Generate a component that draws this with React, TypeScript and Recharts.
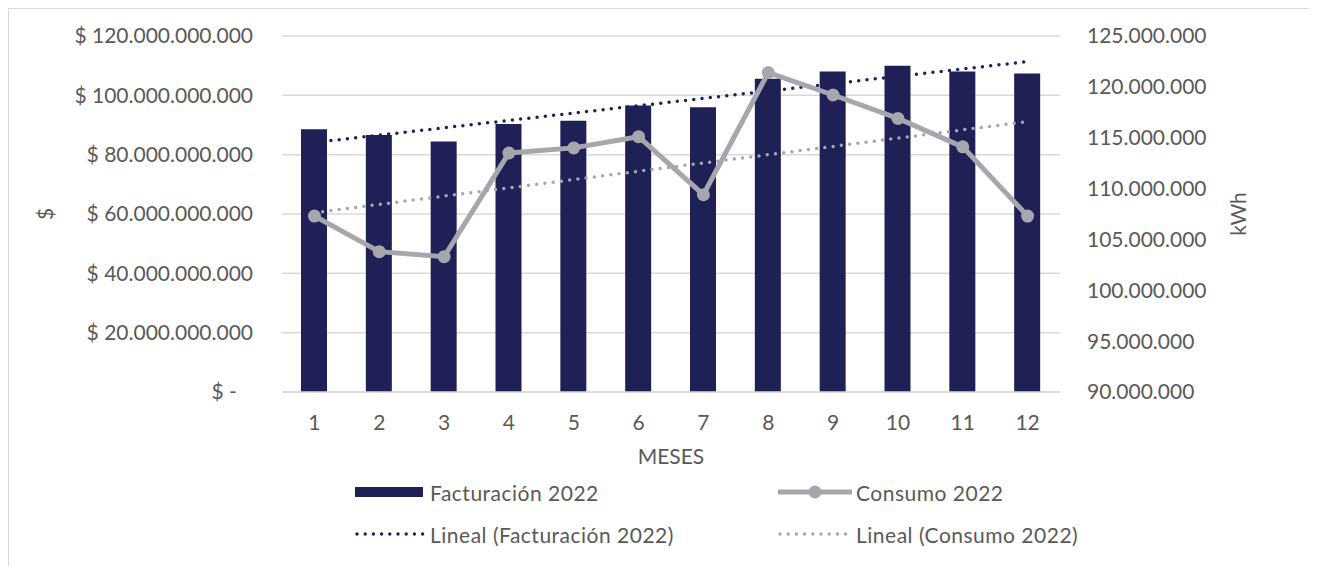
import { ComposedChart, Bar, Line, XAxis, YAxis, CartesianGrid } from "recharts";

// Facturación ($) y consumo (kWh) por mes, año 2022
const meses = ["1", "2", "3", "4", "5", "6", "7", "8", "9", "10", "11", "12"];
const facturacion2022 = [
  88600000000, 86600000000, 84400000000, 90300000000, 91400000000, 96600000000,
  96000000000, 105600000000, 108000000000, 110000000000, 108000000000, 107400000000,
];
const consumo2022 = [
  107300000, 103800000, 103300000, 113500000, 114000000, 115100000,
  109400000, 121400000, 119200000, 116900000, 114100000, 107300000,
];
const pesosTicks = [0, 20000000000, 40000000000, 60000000000, 80000000000, 100000000000, 120000000000];
const kwhTicks = [90000000, 95000000, 100000000, 105000000, 110000000, 115000000, 120000000, 125000000];

const NAVY = "#1f2056";
const GRAY = "#a6a6af";
const GRID = "#d9d9d9";
const TEXT = "#595959";
const FONT = "Lato, sans-serif";

// tendencia lineal por mínimos cuadrados (igual que "Lineal" en Excel)
function lineal(values: number[]) {
  const n = values.length;
  const xs = values.map((_, i) => i + 1);
  const mx = xs.reduce((a, b) => a + b, 0) / n;
  const my = values.reduce((a, b) => a + b, 0) / n;
  let sxy = 0;
  let sxx = 0;
  xs.forEach((x, i) => {
    sxy += (x - mx) * (values[i] - my);
    sxx += (x - mx) * (x - mx);
  });
  const b = sxy / sxx;
  return xs.map((x) => my + b * (x - mx));
}

const tendFact = lineal(facturacion2022);
const tendCons = lineal(consumo2022);

const data = meses.map((mes, i) => ({
  mes,
  facturacion: facturacion2022[i],
  consumo: consumo2022[i],
  tendFact: tendFact[i],
  tendCons: tendCons[i],
}));

const miles = (v: number) => Math.round(v).toString().replace(/\B(?=(\d{3})+(?!\d))/g, ".");
const pesos = (v: number) => (v === 0 ? "$ -\u00a0\u00a0\u00a0" : "$ " + miles(v));

const tick = { fill: TEXT, fontSize: 21, fontFamily: FONT };

function Leyenda() {
  const rows = [
    { y: 483, x: 346, label: "Facturación 2022", kind: "bar" },
    { y: 483, x: 769, label: "Consumo 2022", kind: "line" },
    { y: 525, x: 346, label: "Lineal (Facturación 2022)", kind: "navyDots" },
    { y: 525, x: 769, label: "Lineal (Consumo 2022)", kind: "grayDots" },
  ];
  return (
    <svg width={1302} height={557} style={{ position: "absolute", left: 0, top: 0, pointerEvents: "none" }}>
      {rows.map((r) => (
        <g key={r.label}>
          {r.kind === "bar" && <rect x={r.x} y={r.y - 5} width={68} height={10} fill={NAVY} />}
          {r.kind === "line" && (
            <g>
              <line x1={r.x} x2={r.x + 74} y1={r.y} y2={r.y} stroke={GRAY} strokeWidth={5} />
              <circle cx={r.x + 37} cy={r.y} r={6.5} fill={GRAY} />
            </g>
          )}
          {(r.kind === "navyDots" || r.kind === "grayDots") && (
            <line
              x1={r.x + 2}
              x2={r.x + 72}
              y1={r.y}
              y2={r.y}
              stroke={r.kind === "navyDots" ? NAVY : GRAY}
              strokeWidth={3.4}
              strokeDasharray="0 8.2"
              strokeLinecap="round"
            />
          )}
          <text
            x={r.x + (r.kind === "bar" || r.kind === "navyDots" ? 75 : 78)}
            y={r.y}
            dominantBaseline="central"
            fill={TEXT}
            fontSize={21}
            fontFamily={FONT}
            letterSpacing={0.5}
          >
            {r.label}
          </text>
        </g>
      ))}
    </svg>
  );
}

export default function App() {
  return (
    <div
      style={{
        position: "relative",
        width: 1304,
        height: 558,
        boxSizing: "border-box",
        border: `1px solid ${GRID}`,
        borderBottom: "none",
        background: "#fff",
        fontFamily: FONT,
        overflow: "hidden",
      }}
    >
      <ComposedChart width={1302} height={557} data={data} margin={{ top: 27, right: 0, left: 0, bottom: 94 }}>
        <CartesianGrid yAxisId="pesos" vertical={false} stroke={GRID} strokeWidth={1.5} />
        <XAxis
          dataKey="mes"
          height={80}
          axisLine={{ stroke: GRID, strokeWidth: 1.5 }}
          tickLine={false}
          tickSize={0}
          tickMargin={23}
          tick={tick}
          label={{
            content: ({ viewBox }: any) => (
              <text
                x={viewBox.x + viewBox.width / 2}
                y={viewBox.y + 63}
                textAnchor="middle"
                dominantBaseline="central"
                fill={TEXT}
                fontSize={21}
                fontFamily={FONT}
              >
                MESES
              </text>
            ),
          }}
        />
        <YAxis
          yAxisId="pesos"
          orientation="left"
          width={273}
          domain={[0, 120000000000]}
          ticks={pesosTicks}
          interval={0}
          axisLine={false}
          tickLine={false}
          tickSize={0}
          tickMargin={29}
          tick={tick}
          tickFormatter={pesos}
          label={{
            content: ({ viewBox }: any) => (
              <text
                x={35}
                y={viewBox.y + viewBox.height / 2}
                transform={`rotate(-90 35 ${viewBox.y + viewBox.height / 2})`}
                textAnchor="middle"
                dominantBaseline="central"
                fill={TEXT}
                fontSize={21}
                fontFamily={FONT}
              >
                $
              </text>
            ),
          }}
        />
        <YAxis
          yAxisId="kwh"
          orientation="right"
          width={251}
          domain={[90000000, 125000000]}
          ticks={kwhTicks}
          interval={0}
          axisLine={false}
          tickLine={false}
          tickSize={0}
          tickMargin={27}
          tick={tick}
          tickFormatter={miles}
          label={{
            content: ({ viewBox }: any) => {
              const cx = viewBox.x + 177;
              const cy = viewBox.y + viewBox.height / 2;
              return (
                <text
                  x={cx}
                  y={cy}
                  transform={`rotate(-90 ${cx} ${cy})`}
                  textAnchor="middle"
                  dominantBaseline="central"
                  fill={TEXT}
                  fontSize={21}
                  fontFamily={FONT}
                >
                  kWh
                </text>
              );
            },
          }}
        />
        <Bar yAxisId="pesos" dataKey="facturacion" fill={NAVY} barSize={26} isAnimationActive={false} />
        <Line
          yAxisId="pesos"
          dataKey="tendFact"
          stroke={NAVY}
          strokeWidth={3.5}
          strokeDasharray="0 8.3"
          strokeLinecap="round"
          dot={false}
          activeDot={false}
          isAnimationActive={false}
        />
        <Line
          yAxisId="kwh"
          dataKey="tendCons"
          stroke={GRAY}
          strokeWidth={3.5}
          strokeDasharray="0 8.3"
          strokeLinecap="round"
          dot={false}
          activeDot={false}
          isAnimationActive={false}
        />
        <Line
          yAxisId="kwh"
          type="linear"
          dataKey="consumo"
          stroke={GRAY}
          strokeWidth={5}
          dot={{ r: 6.5, fill: GRAY, stroke: GRAY, strokeWidth: 0 }}
          activeDot={false}
          isAnimationActive={false}
        />
      </ComposedChart>
      <Leyenda />
    </div>
  );
}
